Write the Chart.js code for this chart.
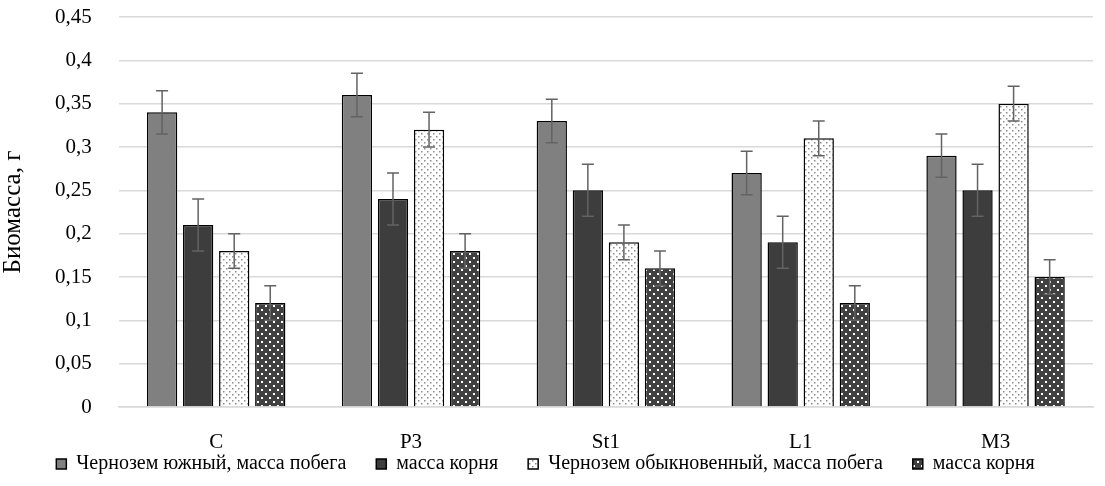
<!DOCTYPE html>
<html>
<head>
<meta charset="utf-8">
<script src="https://cdn.jsdelivr.net/npm/chart.js@4"></script>
<style>
  html, body { margin: 0; padding: 0; background: #fff; }
  #wrap { width: 1105px; height: 486px; }
</style>
</head>
<body>
<div id="wrap"><canvas id="chart"></canvas></div>
<script>
// данные с графика
const categories = ['C', 'P3', 'St1', 'L1', 'M3'];
const seriesNames = ['Чернозем южный, масса побега', 'масса корня', 'Чернозем обыкновенный, масса побега', 'масса корня'];
const southShoot = [0.34, 0.36, 0.33, 0.27, 0.29];
const southRoot = [0.21, 0.24, 0.25, 0.19, 0.25];
const ordShoot = [0.18, 0.32, 0.19, 0.31, 0.35];
const ordRoot = [0.12, 0.18, 0.16, 0.12, 0.15];
const southShootErr = [0.025, 0.025, 0.025, 0.025, 0.025];
const southRootErr = [0.03, 0.03, 0.03, 0.03, 0.03];
const ordShootErr = [0.02, 0.02, 0.02, 0.02, 0.02];
const ordRootErr = [0.02, 0.02, 0.02, 0.02, 0.02];
const yTickLabels = ['0', '0,05', '0,1', '0,15', '0,2', '0,25', '0,3', '0,35', '0,4', '0,45'];

const font = "'Liberation Serif', 'Times New Roman', serif";

// узоры для заливки
function dots(bg, dot, size, r) {
  const c = document.createElement('canvas');
  c.width = size; c.height = size;
  const g = c.getContext('2d');
  g.fillStyle = bg; g.fillRect(0, 0, size, size);
  g.fillStyle = dot;
  g.fillRect(1, 1, r, r);
  g.fillRect(1 + size / 2, 1 + size / 2, r, r);
  return g.createPattern(c, 'repeat');
}
const lightDots = dots('#ffffff', '#8c8c8c', 6, 1.5);
const darkDots = dots('#404040', '#ffffff', 8, 2);

const errorBars = {
  id: 'errorBars',
  afterDatasetsDraw(chart) {
    const ctx = chart.ctx;
    const y = chart.scales.y;
    ctx.save();
    ctx.strokeStyle = '#636363';
    ctx.lineWidth = 1.5;
    chart.data.datasets.forEach((ds, di) => {
      const meta = chart.getDatasetMeta(di);
      meta.data.forEach((bar, i) => {
        const v = ds.data[i], e = ds.errors[i];
        const top = y.getPixelForValue(v + e);
        const bot = y.getPixelForValue(v - e);
        ctx.beginPath();
        ctx.moveTo(bar.x, top); ctx.lineTo(bar.x, bot);
        ctx.moveTo(bar.x - 6, top); ctx.lineTo(bar.x + 6, top);
        ctx.moveTo(bar.x - 6, bot); ctx.lineTo(bar.x + 6, bot);
        ctx.stroke();
      });
    });
    ctx.restore();
  }
};

// подписи оси X не обрезаются, хотя ось сжата
const labelRoom = {
  id: 'labelRoom',
  afterLayout(chart) {
    const x = chart.scales.x;
    x.bottom = x.top + 50;
  }
};

const mk = (label, data, errors, bg) => ({
  label, data, errors,
  backgroundColor: bg,
  borderColor: '#000000',
  borderWidth: 1.5,
  categoryPercentage: 0.74,
  barPercentage: 0.84
});

new Chart(document.getElementById('chart').getContext('2d'), {
  type: 'bar',
  data: {
    labels: categories,
    datasets: [
      mk(seriesNames[0], southShoot, southShootErr, '#808080'),
      mk(seriesNames[1], southRoot, southRootErr, '#3d3d3d'),
      mk(seriesNames[2], ordShoot, ordShootErr, lightDots),
      mk(seriesNames[3], ordRoot, ordRootErr, darkDots)
    ]
  },
  options: {
    responsive: true,
    maintainAspectRatio: false,
    animation: false,
    layout: { padding: { left: -2, right: 12, top: 0, bottom: 2 } },
    plugins: {
      legend: {
        position: 'bottom',
        labels: {
          font: { family: font, size: 20 },
          color: '#000',
          boxWidth: 10,
          boxHeight: 10,
          padding: 30
        }
      },
      tooltip: { enabled: false }
    },
    scales: {
      x: {
        grid: { display: false },
        border: { color: '#d9d9d9', width: 1.5 },
        ticks: { font: { family: font, size: 21 }, color: '#000', padding: 15 },
        afterFit: (s) => { s.height = 17; }
      },
      y: {
        min: 0, max: 0.45,
        ticks: {
          stepSize: 0.05,
          font: { family: font, size: 21 },
          color: '#000',
          padding: 27,
          callback: (v, i) => yTickLabels[i]
        },
        grid: { color: '#d9d9d9', lineWidth: 1.5, drawTicks: false },
        border: { display: false },
        title: { display: true, text: 'Биомасса, г', font: { family: font, size: 25 }, color: '#000', padding: 0 },
        afterFit: (s) => { s.paddingTop = 17; s.paddingBottom = 0; }
      }
    }
  },
  plugins: [errorBars, labelRoom]
});
</script>
</body>
</html>
